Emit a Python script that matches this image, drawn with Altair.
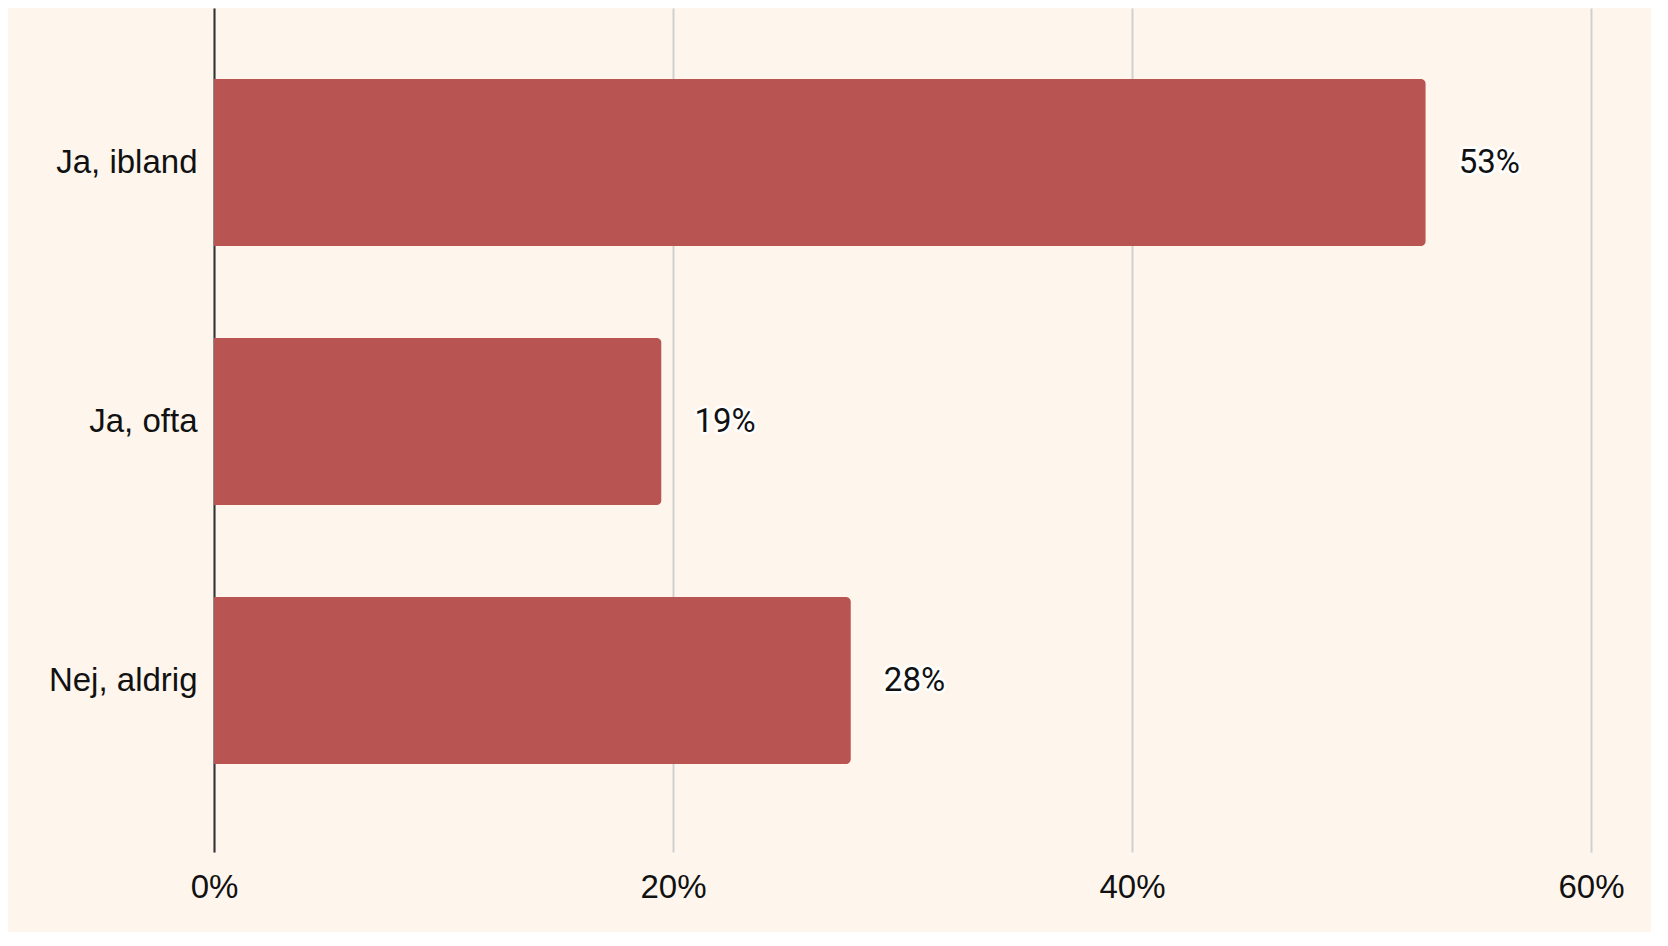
import altair as alt
import pandas as pd

categories = ["Ja, ibland", "Ja, ofta", "Nej, aldrig"]
values = [52.8, 19.5, 27.75]
value_labels = ["53%", "19%", "28%"]
x_ticks = [0, 20, 40, 60]

df = pd.DataFrame({"cat": categories, "val": values, "lab": value_labels})

BG = "#FEF6ED"
BAR = "#B85451"

y_enc = alt.Y(
    "cat:N",
    sort=categories,
    title=None,
    scale=alt.Scale(paddingInner=0.355, paddingOuter=0.307, align=0.447),
    axis=alt.Axis(
        domain=True, domainColor="#333333", domainWidth=2,
        ticks=False, labelPadding=17, labelFontSize=33,
        labelFont="Liberation Sans", labelColor="#111111", grid=False,
    ),
)
x_enc = alt.X(
    "val:Q",
    title=None,
    scale=alt.Scale(domain=[0, 60], nice=False),
    axis=alt.Axis(
        values=x_ticks, labelExpr="datum.value + '%'", domain=False, ticks=False,
        grid=True, gridColor="#CFCFCF", gridWidth=2, labelPadding=19,
        labelFlush=False, labelBound=False,
        labelFontSize=33, labelFont="Liberation Sans", labelColor="#111111",
    ),
)

bars = alt.Chart(df).mark_bar(color=BAR, cornerRadiusEnd=5).encode(x=x_enc, y=y_enc)

halo = alt.Chart(df).mark_text(
    align="left", baseline="middle", dx=33, fontSize=33, font="Roboto",
    stroke="white", strokeWidth=5, strokeJoin="round", fill="white",
).encode(x="val:Q", y=alt.Y("cat:N", sort=categories), text="lab:N")

text = alt.Chart(df).mark_text(
    align="left", baseline="middle", dx=33, fontSize=33, font="Roboto", color="#111111",
).encode(x="val:Q", y=alt.Y("cat:N", sort=categories), text="lab:N")

chart = (
    alt.layer(bars, halo, text)
    .properties(
        width=1377, height=844,
        background=BG,
        padding={"left": 206, "top": 0, "right": 60, "bottom": 80},
        autosize=alt.AutoSizeParams(type="none"),
    )
    .configure_view(stroke=None)
)

chart.save("out.html", embed_options={"renderer": "svg", "actions": False})
